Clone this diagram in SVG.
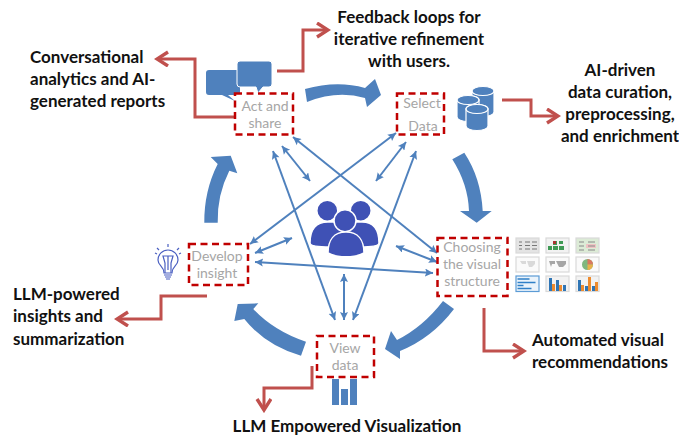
<svg xmlns="http://www.w3.org/2000/svg" width="679" height="439" viewBox="0 0 679 439">
<style>
.lbl{font-family:Lato,"Liberation Sans",sans-serif;font-weight:700;font-size:17px;fill:#111}
.node{font-family:Lato,"Liberation Sans",sans-serif;font-size:14px;fill:#a6a6a6;text-anchor:middle}
.box{fill:none;stroke:#c00000;stroke-width:2.5;stroke-dasharray:7 4.5}
.red{fill:none;stroke:#c0504d;stroke-width:3}
.dbl{fill:none;stroke:#4f81bd;stroke-width:2;marker-start:url(#bs);marker-end:url(#be)}
.big{fill:#4f81bd}
.ppl{fill:#3f51b5;stroke:#fff;stroke-width:1.5}
.icon{fill:#4f81bd}
.cyl{fill:#4f81bd;stroke:#fff;stroke-width:1.2}
.th{fill:#f2f2f2;stroke:#d9d9d9;stroke-width:1.2}
.bulb{fill:none;stroke:#4a5fc1;stroke-width:1.2}
</style>
<defs>
<marker id="be" markerUnits="userSpaceOnUse" markerWidth="10" markerHeight="10" refX="8" refY="4" orient="auto"><path d="M0 0L8 4L0 8L1.500 4Z" fill="#4f81bd"/></marker>
<marker id="bs" markerUnits="userSpaceOnUse" markerWidth="10" markerHeight="10" refX="0" refY="4" orient="auto"><path d="M8 0L0 4L8 8L6.500 4Z" fill="#4f81bd"/></marker>
<marker id="ra" markerUnits="userSpaceOnUse" markerWidth="16" markerHeight="18" refX="13" refY="8" orient="auto"><path d="M2 1L13 8L2 15" fill="none" stroke="#c0504d" stroke-width="3.4"/></marker>
</defs>

<g id="connectors">
<g id="cycle">
<path class="big" d="M305 89Q337 80 365 88L375 79L381 95L367 107L365 98Q337 90 307 102Z"/>
<path class="big" d="M452.300 159.300L464.300 152.700Q481 178 482.700 211H491.700L476.700 222.700L460 211H469Q468 184 452.300 159.300Z"/>
<path class="big" d="M443 301L454 309Q432 338 400 351L400 359L385 349L391 331L397 340Q423 327 443 301Z"/>
<path class="big" d="M306 341.700Q274 331 253.300 309L258.300 303.300L237.700 304L234.300 321L244.300 319Q266 346 301 355.700Z"/>
<path class="big" d="M204.300 222.700Q204 191 217.700 164L210.700 157L230.700 155.700L237.300 173.300L229.300 170.700Q217 195 217.700 222.700Z"/>
</g>
<g id="links">
<path class="dbl" d="M293 137L437 253"/>
<path class="dbl" d="M396 133L250 244"/>
<path class="dbl" d="M273 151L335 320"/>
<path class="dbl" d="M416 151L353 320"/>
<path class="dbl" d="M255 262L433 273"/>
<path class="dbl" d="M282 146L310 181"/>
<path class="dbl" d="M406 142L376 181"/>
<path class="dbl" d="M255 253L292 238"/>
<path class="dbl" d="M437 262L396 246"/>
<path class="dbl" d="M344 274L344 320"/>
</g>
<g id="callouts">
<path class="red" marker-end="url(#ra)" d="M235 117H195V59H157"/>
<path class="red" marker-end="url(#ra)" d="M277 71H303V30H328"/>
<path class="red" marker-end="url(#ra)" d="M502 100H531V116H558"/>
<path class="red" marker-end="url(#ra)" d="M484 308V351H524"/>
<path class="red" marker-end="url(#ra)" d="M207 296H161V319H117"/>
<path class="red" marker-end="url(#ra)" d="M312 366V388H264V410"/>
</g>
</g>

<g id="node-act">
<path class="icon" d="M209 70H240V95H228L235 101L222 95H209Q206 95 206 92V73Q206 70 209 70Z"/>
<path class="icon" d="M240 61H269Q272 61 272 64V84Q272 87 269 87H263L258 93L256 87H240Q237 87 237 84V64Q237 61 240 61Z" stroke="#fff" stroke-width="1"/>
<rect x="235" y="93.500" width="58" height="41" fill="#fff"/>
<rect class="box" x="235" y="93.500" width="58" height="41"/>
<text class="node" x="265" y="111">Act and</text>
<text class="node" x="265" y="128">share</text>
</g>
<g id="node-select">
<rect class="box" x="397" y="93.500" width="47" height="41"/>
<text class="node" x="422" y="108">Select</text>
<text class="node" x="423" y="131">Data</text>
<g id="db">
<path class="cyl" d="M472 91A11 4.500 0 0 1 494 91V112A11 4.500 0 0 1 472 112Z"/><ellipse class="cyl" cx="483" cy="91" rx="11" ry="4.500"/>
<path class="cyl" d="M457 100A11 4.500 0 0 1 479 100V117A11 4.500 0 0 1 457 117Z"/><ellipse class="cyl" cx="468" cy="100" rx="11" ry="4.500"/>
<path class="cyl" d="M466 109A11 4.500 0 0 1 488 109V126A11 4.500 0 0 1 466 126Z"/><ellipse class="cyl" cx="477" cy="109" rx="11" ry="4.500"/>
</g>
</g>
<g id="node-choosing">
<rect class="box" x="437.500" y="238" width="70" height="58"/>
<text class="node" x="472" y="252">Choosing</text>
<text class="node" x="472" y="269">the visual</text>
<text class="node" x="472" y="286">structure</text>
<g id="thumbs">
<rect class="th" x="516" y="238" width="23" height="15" style="fill:#e4e4e4"/>
<path d="M519 242h3M525 242h5M532 242h5M519 245.500h3M525 245.500h5M532 245.500h5M519 249h3M525 249h5M532 249h5" stroke="#777" stroke-width="1"/>
<rect class="th" x="546" y="238" width="23" height="15"/>
<path d="M553 241h4v4h-4zM559 241h4v3h-4zM548 246h4v4h-4zM553 246h5v4h-5zM559 246h5v4h-5z" fill="#3f9a55"/><rect x="553" y="241" width="3" height="3" fill="#a33"/>
<rect class="th" x="576" y="238" width="23" height="15" style="fill:#dcebd6"/>
<rect x="586" y="244" width="10" height="4" fill="#efc4c4"/><path d="M579 242h5M588 242h7M579 246h5M588 246h7M579 250h5M588 250h7" stroke="#888" stroke-width="1"/>
<rect class="th" x="516" y="257" width="23" height="15" style="fill:#fafafa"/>
<path d="M520 261h6v3h-4zM527 261h8v3l-3 3h-3z" fill="#d9d9d9"/>
<rect class="th" x="546" y="257" width="23" height="15" style="fill:#fafafa"/>
<path d="M549 261h6v3h-3l-1 3zM556 261h10v3l-3 3h-4z" fill="#a6a6a6"/>
<rect class="th" x="576" y="257" width="23" height="15" style="fill:#fafafa"/>
<circle cx="587.500" cy="264.500" r="5.500" fill="#7fb77e"/><path d="M587.500 264.500V259A5.500 5.500 0 0 1 593 264.500Z" fill="#d9775f"/><path d="M587.500 264.500H593A5.500 5.500 0 0 1 587.500 270Z" fill="#e8b04a"/>
<rect x="516" y="276" width="23" height="15.500" fill="#eaf3fb" stroke="#5b9bd5" stroke-width="1.2"/>
<path d="M517.500 279h12M517.500 282.500h18M517.500 285.500h6M517.500 288.500h14" stroke="#2f80c8" stroke-width="1.3"/>
<rect class="th" x="546" y="276" width="23" height="15.500"/>
<path d="M549 278h3v13h-3zM556 280h3v11h-3zM563 285h3v6h-3z" fill="#2f75b5"/><path d="M552 284h3v7h-3zM559 285h3v6h-3z" fill="#ed8b2e"/>
<rect class="th" x="576" y="276" width="23" height="15.500"/>
<path d="M578 280h3v11h-3zM592 286h3v5h-3zM585 286h3v5h-3z" fill="#2f75b5"/><path d="M581 285h3v6h-3zM588 277h3v14h-3zM595 282h3v9h-3z" fill="#ed8b2e"/>
</g>
</g>
<g id="node-view">
<rect class="box" x="317" y="336" width="57" height="41"/>
<text class="node" x="345" y="353">View</text>
<text class="node" x="345" y="370">data</text>
<path class="icon" d="M332 379h7v26h-7zM341 389h7v16h-7zM350 379h7v26h-7z"/>
</g>
<g id="node-develop">
<rect class="box" x="189" y="244" width="59" height="41"/>
<text class="node" x="217" y="261">Develop</text>
<text class="node" x="217" y="278">insight</text>
<g id="bulb">
<path class="bulb" d="M164 273C164 266 158 266 158 260A10 10 0 0 1 178 260C178 266 172 266 172 273Z"/>
<path class="bulb" d="M165 273V263L163 256H173L171 263V273M168 256V270"/>
<path class="bulb" d="M164 275H172M165 277H171M166 279H170M168 244V247M157 248L159 250M179 248L177 250M155 253L157 254M181 253L179 254"/>
</g>
</g>
<g id="node-people">
<circle class="ppl" cx="327.300" cy="210.700" r="10.500"/>
<circle class="ppl" cx="360.700" cy="210.700" r="10.500"/>
<path class="ppl" d="M310 243C310 229 317 222 328 222H362C373 222 379 229 379 243C379 246 370 247 360 247H330C320 247 310 246 310 243Z"/>
<circle class="ppl" cx="345" cy="220.700" r="11"/>
<path class="ppl" d="M328 253C328 240 334 232 346 232C358 232 364 240 364 253C356 258 336 258 328 253Z"/>
</g>

<g id="labels">
<text class="lbl" x="30" y="63">Conversational</text>
<text class="lbl" x="30" y="85">analytics and AI-</text>
<text class="lbl" x="30" y="107">generated reports</text>
<text class="lbl" text-anchor="middle" x="409" y="23">Feedback loops for</text>
<text class="lbl" text-anchor="middle" x="409" y="45">iterative refinement</text>
<text class="lbl" text-anchor="middle" x="409" y="67">with users.</text>
<text class="lbl" text-anchor="middle" x="620" y="76">AI-driven</text>
<text class="lbl" text-anchor="middle" x="620" y="98">data curation,</text>
<text class="lbl" text-anchor="middle" x="620" y="120">preprocessing,</text>
<text class="lbl" text-anchor="middle" x="620" y="142">and enrichment</text>
<text class="lbl" x="532" y="346">Automated visual</text>
<text class="lbl" x="532" y="368">recommendations</text>
<text class="lbl" x="13" y="300">LLM-powered</text>
<text class="lbl" x="13" y="322">insights and</text>
<text class="lbl" x="13" y="345">summarization</text>
<text class="lbl" text-anchor="middle" x="347" y="432">LLM Empowered Visualization</text>
</g>
</svg>
